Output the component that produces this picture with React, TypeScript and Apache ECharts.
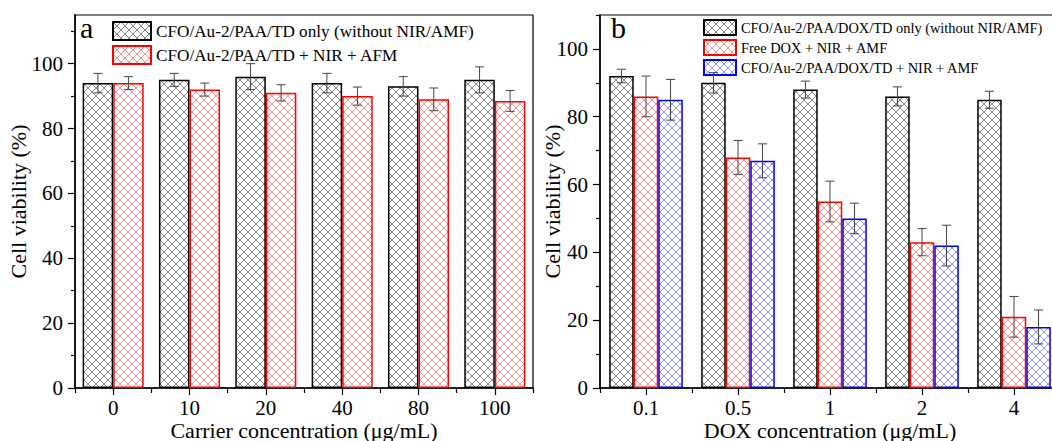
import React, { useEffect, useRef } from "react";
import * as echarts from "echarts";

const catsA = ["0", "10", "20", "40", "80", "100"];
const aOnly = [94, 95, 96, 94, 93, 95];
const aOnlyErr = [3, 2, 4, 3, 3, 4];
const aNir = [94, 92, 91, 90, 89, 88.5];
const aNirErr = [2, 2, 2.5, 2.8, 3.5, 3.2];

const catsB = ["0.1", "0.5", "1", "2", "4"];
const bOnly = [92, 90, 88, 86, 85];
const bOnlyErr = [2, 3, 2.5, 2.8, 2.5];
const bFree = [86, 68, 55, 43, 21];
const bFreeErr = [6, 5, 6, 4, 6];
const bCombo = [85, 67, 50, 42, 18];
const bComboErr = [6, 5, 4.5, 6, 5];

const majorTicks = [0, 20, 40, 60, 80, 100];
const minorTicksA = [10, 30, 50, 70, 90, 110];
const minorTicksB = [10, 30, 50, 70, 90, 110];

const nameA = ["CFO/Au-2/PAA/TD only (without NIR/AMF)", "CFO/Au-2/PAA/TD + NIR + AFM"];
const nameB = [
  "CFO/Au-2/PAA/DOX/TD only (without NIR/AMF)",
  "Free DOX + NIR + AMF",
  "CFO/Au-2/PAA/DOX/TD + NIR + AMF",
];

const FONT = "Liberation Serif";

function hatch(color: string) {
  const s = 8;
  const svg = `<svg xmlns='http://www.w3.org/2000/svg' width='${s}' height='${s}'><rect width='${s}' height='${s}' fill='white'/><path d='M-1 -1L${s + 1} ${s + 1}M${s + 1} -1L-1 ${s + 1}' stroke='${color}' stroke-width='0.7'/></svg>`;
  return {
    image: "data:image/svg+xml;charset=utf-8," + encodeURIComponent(svg),
    repeat: "repeat",
    imageWidth: s,
    imageHeight: s,
  } as any;
}

function barSeries(name: string, data: number[], lineColor: string, border: string, axis: number) {
  return {
    type: "bar",
    name,
    data,
    xAxisIndex: axis,
    yAxisIndex: axis,
    barGap: "0%",
    barCategoryGap: "20%",
    itemStyle: { color: hatch(lineColor), borderColor: border, borderWidth: 1.5 },
    z: 2,
  };
}

function errSeries(vals: number[], errs: number[], idx: number, n: number, axis: number) {
  return {
    type: "custom",
    xAxisIndex: axis,
    yAxisIndex: axis,
    z: 5,
    silent: true,
    data: vals.map((v, i) => [i, v, errs[i]]),
    renderItem: (params: any, api: any) => {
      const cat = api.value(0);
      const v = api.value(1);
      const e = api.value(2);
      const c = api.coord([cat, v]);
      const band = api.size([1, 0])[0];
      const bw = (band * 0.8) / n;
      const x = c[0] - band * 0.4 + (idx + 0.5) * bw;
      const top = api.coord([cat, v + e])[1];
      const bot = api.coord([cat, v - e])[1];
      const st = { stroke: "#444", lineWidth: 1 };
      const cap = 4.5;
      return {
        type: "group",
        children: [
          { type: "line", shape: { x1: x, y1: top, x2: x, y2: bot }, style: st },
          { type: "line", shape: { x1: x - cap, y1: top, x2: x + cap, y2: top }, style: st },
          { type: "line", shape: { x1: x - cap, y1: bot, x2: x + cap, y2: bot }, style: st },
        ],
      };
    },
  };
}

export default function App() {
  const ref = useRef<HTMLDivElement>(null);
  useEffect(() => {
    if (!ref.current) return;
    const chart = echarts.init(ref.current, null, { renderer: "svg" });
    const axisLine = { show: true, lineStyle: { color: "#000", width: 1.5 } };
    const labelStyle = { fontFamily: FONT, fontSize: 21, color: "#000" };
    const mkX = (gi: number, cats: string[], name: string) => [
      {
        type: "category",
        gridIndex: gi,
        data: cats,
        axisLine,
        axisTick: { show: true, interval: 0, length: 5, lineStyle: { color: "#000", width: 1.2 } },
        axisLabel: { ...labelStyle, margin: 9, interval: 0 },
        name,
        nameLocation: "middle",
        nameGap: 31,
        nameMoveOverlap: false,
        nameTextStyle: { fontFamily: FONT, fontSize: 22, color: "#000" },
      },
      {
        type: "category",
        gridIndex: gi,
        position: "bottom",
        data: cats,
        axisLine: { show: false },
        axisTick: { show: true, alignWithLabel: true, interval: 0, length: 7, lineStyle: { color: "#000", width: 1.2 } },
        axisLabel: { show: false },
      },
    ];
    const mkY = (gi: number, max: number, minor: number[], nameGap: number) => [
      {
        type: "value",
        gridIndex: gi,
        min: 0,
        max,
        interval: 20,
        axisLine,
        splitLine: { show: false },
        axisTick: { show: true, customValues: majorTicks, length: 7, lineStyle: { color: "#000", width: 1.2 } },
        axisLabel: { ...labelStyle, margin: 12, customValues: majorTicks },
        name: "Cell viability (%)",
        nameLocation: "middle",
        nameGap,
        nameMoveOverlap: false,
        nameTextStyle: { fontFamily: FONT, fontSize: 22, color: "#000" },
      },
      {
        type: "value",
        gridIndex: gi,
        position: "left",
        min: 0,
        max,
        interval: 10,
        axisLine: { show: false },
        splitLine: { show: false },
        axisTick: { show: true, customValues: minor, length: 4, lineStyle: { color: "#000", width: 1.2 } },
        axisLabel: { show: false },
      },
    ];
    const gridBase = {
      top: 15,
      height: 373,
      show: true,
      borderColor: "#000",
      borderWidth: 1.2,
      backgroundColor: "transparent",
      containLabel: false,
      outerBoundsMode: "none",
    };
    const option: any = {
      animation: false,
      backgroundColor: "#fff",
      grid: [
        { ...gridBase, left: 75, width: 458 },
        { ...gridBase, left: 600, width: 460 },
      ],
      xAxis: [...mkX(0, catsA, "Carrier concentration (μg/mL)"), ...mkX(1, catsB, "DOX concentration (μg/mL)")],
      yAxis: [...mkY(0, 115, minorTicksA, 46), ...mkY(1, 110, minorTicksB, 37)],
      legend: [
        {
          data: nameA,
          orient: "vertical",
          left: 112,
          top: 21,
          padding: 0,
          itemWidth: 38,
          itemHeight: 18,
          itemGap: 4,
          icon: "rect",
          textStyle: { fontFamily: FONT, fontSize: 17.2, color: "#000" },
          selectedMode: false,
        },
        {
          data: nameB,
          orient: "vertical",
          left: 703,
          top: 19,
          padding: 0,
          itemWidth: 32,
          itemHeight: 15,
          itemGap: 3,
          icon: "rect",
          textStyle: { fontFamily: FONT, fontSize: 14.4, color: "#000" },
          selectedMode: false,
        },
      ],
      graphic: [
        { type: "text", left: 80, top: 12, style: { text: "a", fontFamily: FONT, fontSize: 30, fill: "#000" } },
        { type: "text", left: 611, top: 12, style: { text: "b", fontFamily: FONT, fontSize: 30, fill: "#000" } },
      ],
      series: [
        barSeries(nameA[0], aOnly, "#555", "#000", 0),
        barSeries(nameA[1], aNir, "#e66", "#ff0000", 0),
        errSeries(aOnly, aOnlyErr, 0, 2, 0),
        errSeries(aNir, aNirErr, 1, 2, 0),
        barSeries(nameB[0], bOnly, "#555", "#000", 2),
        barSeries(nameB[1], bFree, "#e66", "#ff0000", 2),
        barSeries(nameB[2], bCombo, "#66e", "#0000ff", 2),
        errSeries(bOnly, bOnlyErr, 0, 3, 2),
        errSeries(bFree, bFreeErr, 1, 3, 2),
        errSeries(bCombo, bComboErr, 2, 3, 2),
      ],
    };
    chart.setOption(option);
    return () => chart.dispose();
  }, []);
  return <div ref={ref} style={{ width: 1052, height: 441, position: "absolute", left: 0, top: 0 }} />;
}
